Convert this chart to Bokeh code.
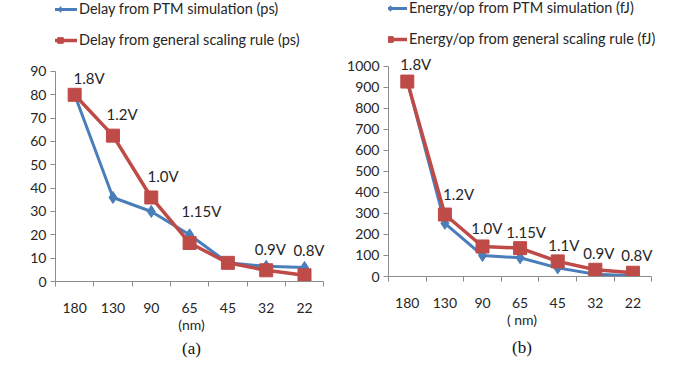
from bokeh.plotting import figure
from bokeh.layouts import row
from bokeh.models import (FixedTicker, Legend, LegendItem, Range1d, Title,
                          ColumnDataSource)
from bokeh.core.properties import value
from bokeh.embed import file_html
from bokeh.resources import INLINE

# ---------------- data ----------------
nodes = ["180", "130", "90", "65", "45", "32", "22"]

delay_ptm = [80, 36, 30, 20, 8, 6.5, 6]
delay_rule = [80, 62.5, 36, 16.5, 8, 4.8, 2.7]
delay_volt = ["1.8V", "1.2V", "1.0V", "1.15V", "0.9V", "0.8V"]
delay_ticks = [0, 10, 20, 30, 40, 50, 60, 70, 80, 90]

energy_ptm = [930, 253, 100, 89, 41, 11, 3]
energy_rule = [928, 295, 143, 135, 72, 32, 18]
energy_volt = ["1.8V", "1.2V", "1.0V", "1.15V", "1.1V", "0.9V", "0.8V"]
energy_ticks = [0, 100, 200, 300, 400, 500, 600, 700, 800, 900, 1000]

# label anchors (category index, value) for the voltage annotations
delay_lab_x = [0.97, 1.83, 2.90, 3.79, 5.70, 6.71]
delay_lab_y = [87, 71.6, 45, 30, 14.1, 13.3]
energy_lab_x = [0.81, 1.95, 2.70, 3.63, 4.75, 5.68, 6.69]
energy_lab_y = [1010, 395, 233, 210, 152, 114, 100]

BLUE = "#4A7EBB"
RED = "#BE4B48"
AXIS = "#8C8C8C"
TXT = "#262626"
FONT = "Lato"


def panel(ptm, rule, ticks, ymax_axis, ytop, lab_x, lab_y, labs, leg1, leg2,
          xlabel, sub, frame_w, frame_h, bl, br, leg_loc, leg_spacing,
          lab_standoff, axlab_standoff, title_standoff):
    xs = list(range(1, len(nodes) + 1))
    p = figure(frame_width=frame_w, frame_height=frame_h,
               x_range=Range1d(0.5, 7.6), y_range=Range1d(0, ytop),
               output_backend="svg", toolbar_location=None,
               min_border_left=bl, min_border_right=br, min_border_top=0,
               min_border_bottom=6)
    p.outline_line_color = None
    p.xgrid.visible = False
    p.ygrid.visible = False
    p.background_fill_color = "white"

    r1 = p.line(xs, ptm, line_color=BLUE, line_width=3)
    s1 = p.scatter(xs, ptm, marker="diamond", size=12, fill_color=BLUE,
                   line_color=BLUE)
    r2 = p.line(xs, rule, line_color=RED, line_width=3.5)
    s2 = p.scatter(xs, rule, marker="square", size=13, fill_color=RED,
                   line_color=RED)

    src = ColumnDataSource(dict(x=lab_x, y=lab_y, t=labs))
    p.text(x="x", y="y", text="t", source=src, text_align="left",
           text_baseline="middle", text_font=value(FONT),
           text_font_size="15px", text_color=TXT)

    # x axis
    xa = p.xaxis[0]
    xa.ticker = FixedTicker(ticks=xs, minor_ticks=[i + 0.5 for i in range(0, 8)])
    xa.major_label_overrides = {i: n for i, n in zip(xs, nodes)}
    xa.bounds = (0.5, 7.5)
    xa.major_tick_out = 0
    xa.major_tick_in = 0
    xa.minor_tick_out = 5
    xa.minor_tick_in = 0
    xa.minor_tick_line_color = AXIS
    xa.axis_line_color = AXIS
    xa.major_label_standoff = lab_standoff
    xa.major_label_text_font = FONT
    xa.major_label_text_font_size = "14px"
    xa.major_label_text_color = TXT
    xa.axis_label = xlabel
    xa.axis_label_text_font = FONT
    xa.axis_label_text_font_size = "14px"
    xa.axis_label_text_font_style = "normal"
    xa.axis_label_text_color = TXT
    xa.axis_label_standoff = axlab_standoff

    # y axis
    ya = p.yaxis[0]
    ya.ticker = FixedTicker(ticks=ticks, minor_ticks=[])
    ya.bounds = (0, ymax_axis)
    ya.major_tick_out = 5
    ya.major_tick_in = 0
    ya.major_tick_line_color = AXIS
    ya.axis_line_color = AXIS
    ya.minor_tick_line_color = None
    ya.major_label_standoff = 4
    ya.major_label_text_font = FONT
    ya.major_label_text_font_size = "14px"
    ya.major_label_text_color = TXT

    legend = Legend(items=[LegendItem(label=leg1, renderers=[r1, s1]),
                           LegendItem(label=leg2, renderers=[r2, s2])],
                    location=leg_loc, orientation="vertical",
                    glyph_width=34, glyph_height=14, label_height=14,
                    label_standoff=2, spacing=leg_spacing, padding=0, margin=0,
                    border_line_color=None, background_fill_alpha=0,
                    label_text_font=FONT, label_text_font_size="14.5px",
                    label_text_color=TXT)
    p.add_layout(legend)

    t = Title(text=sub, align="center", text_font="Liberation Serif",
              text_font_size="17px", text_font_style="normal",
              text_color="#111111", standoff=title_standoff)
    p.add_layout(t, "below")
    return p


left = panel(delay_ptm, delay_rule, delay_ticks, 90, 120.4,
             delay_lab_x, delay_lab_y, delay_volt,
             "Delay from PTM simulation (ps)",
             "Delay from general scaling rule (ps)",
             "(nm)", "(a)", 272, 281, 55, 16, (-12, 233), 14, 16, 0, 3)

right = panel(energy_ptm, energy_rule, energy_ticks, 1000, 1314,
              energy_lab_x, energy_lab_y, energy_volt,
              "Energy/op from PTM simulation (fJ)",
              "Energy/op from general scaling rule (fJ)",
              "( nm)", "(b)", 267, 276, 45, 20, (-15, 229), 14, 16, 0, 11)

layout = row(left, right)
open("out.html", "w").write(file_html(layout, INLINE))
